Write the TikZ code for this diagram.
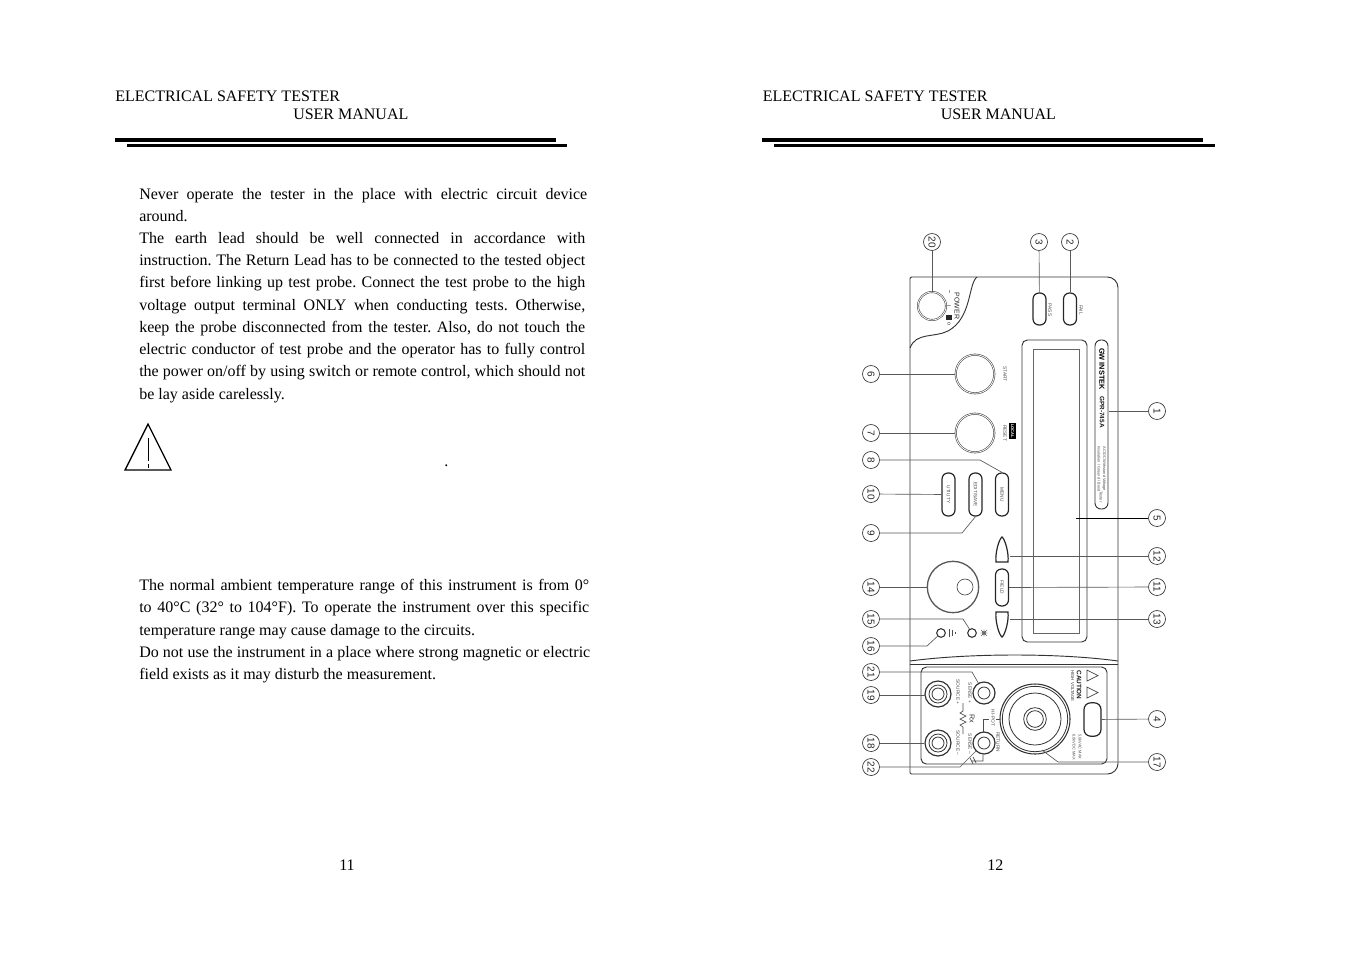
\documentclass[tikz,border=0pt]{standalone}
\usepackage{fontspec}
\setmainfont{Liberation Serif}
\setsansfont{Liberation Sans}
\frenchspacing
\usetikzlibrary{positioning}
\tikzset
{
    callout/.style = {circle, draw=black!80, line width=0.5pt, minimum size=12.75pt, inner sep=0pt, rotate=-90, font=\sffamily\fontsize{7.5}{8}\selectfont, text=black!85},
    leader/.style  = {draw=black!65, line width=0.5pt},
    outline/.style = {draw=black!80, line width=0.7pt},
    keycap/.style  = {rectangle, draw=black!85, line width=0.9pt, rounded corners=4.5pt, rotate=-90, minimum width=32.25pt, minimum height=9.75pt, inner sep=0pt, text=black!70, font=\sffamily\fontsize{3.6}{4}\selectfont},
    knob/.style    = {circle, draw=black!70, line width=0.45pt, double, double distance=0.6pt, inner sep=0pt},
    ring/.style    = {circle, draw=black!80, line width=0.6pt, inner sep=0pt},
    legend/.style  = {rotate=-90, inner sep=0pt, text=black!70, font=\sffamily\fontsize{3.6}{4}\selectfont},
    heading/.style = {anchor=base west, inner sep=0pt, font=\fontsize{12}{14}\selectfont},
    para/.style    = {anchor=north west, inner sep=0pt, align=justify, font=\fontsize{12}{16.7}\selectfont, text width=#1}
}
\begin{document}
\begin{tikzpicture}[x=0.75pt, y=-0.75pt]
	 \useasboundingbox (0, 0) rectangle (1350, 954);

	 % left page
	 \node (headla) [heading] at (115, 101) {ELECTRICAL SAFETY TESTER};
	 \node (headlb) [heading] at (293, 119) {USER MANUAL};
	 \draw[line width=3pt] (115, 140) -- (556, 140);
	 \draw[line width=2.4pt] (127, 145.5) -- (567, 145.5);

	 \node (parone) [para=336pt] at (139, 188) {Never operate the tester in the place with electric circuit device\linebreak around.};
	 \node (partwo) [para=334.5pt] at (139, 232) {The earth lead should be well connected in accordance with\linebreak instruction. The Return Lead has to be connected to the tested object\linebreak first before linking up test probe. Connect the test probe to the high\linebreak voltage output terminal ONLY when conducting tests. Otherwise,\linebreak keep the probe disconnected from the tester. Also, do not touch the\linebreak electric conductor of test probe and the operator has to fully control\linebreak the power on/off by using switch or remote control, which should not\linebreak be lay aside carelessly.};
	 \node (parthree) [para=337.5pt] at (139, 579) {The normal ambient temperature range of this instrument is from 0°\linebreak to 40°C (32° to 104°F). To operate the instrument over this specific\linebreak temperature range may cause damage to the circuits.};
	 \node (parfour) [para=338.25pt] at (139, 646) {Do not use the instrument in a place where strong magnetic or electric\linebreak field exists as it may disturb the measurement.};

	 \draw[line width=1pt, line join=miter] (148, 424) -- (171, 470) -- (125, 470) -- cycle;
	 \draw[line width=0.6pt] (148, 438) -- (148, 461) (148, 464) -- (148, 468);
	 \node (stop) [heading] at (444, 466) {.};
	 \node (pagel) [heading] at (339, 870) {11};

	 % right page
	 \node (headra) [heading] at (762.5, 101) {ELECTRICAL SAFETY TESTER};
	 \node (headrb) [heading] at (940.5, 119) {USER MANUAL};
	 \draw[line width=3pt] (762, 140) -- (1203, 140);
	 \draw[line width=2.4pt] (774, 145.5) -- (1215, 145.5);
	 \node (pager) [heading] at (987, 870) {12};

	 % panel outline
	 \draw[outline, rounded corners=1pt] (910, 774) -- (910, 277) [rounded corners=8pt] -- (1118, 277) -- (1118, 774) [rounded corners=1pt] -- cycle;
	 \draw[outline] (977, 277) .. controls (968, 284) and (972, 318) .. (948, 331) .. controls (934, 338) and (916, 332) .. (910, 348);
	 \draw[outline] (910, 661) .. controls (970, 653) and (1060, 653) .. (1118, 661);
	 \draw[outline] (910, 664) -- (1118, 664);
	 \draw[outline, rounded corners=4pt] (921, 667) rectangle (1107, 764);

	 % display and logo strip
	 \draw[outline, rounded corners=4pt] (1022, 340) rectangle (1087, 642);
	 \draw[outline, draw=black!60] (1033, 349) rectangle (1079, 633);
	 \draw[outline, rounded corners=4.5pt] (1095, 340) rectangle (1108, 509);
	 \node (brand) [legend, text=black, font=\sffamily\bfseries\fontsize{5.5}{7}\selectfont] at (1102, 369) {GW INSTEK};
	 \node (model) [legend, text=black!90, font=\sffamily\bfseries\fontsize{4.8}{6}\selectfont] at (1102, 412) {GPR-745A};
	 \node (typea) [legend, font=\sffamily\fontsize{2.9}{3}\selectfont] at (1104, 469) {AC/DC Withstand Voltage};
	 \node (typeb) [legend, font=\sffamily\fontsize{2.9}{3}\selectfont] at (1099, 469) {Insulation / Ground / Bond};
	 \node (typec) [legend, font=\sffamily\fontsize{3}{3}\selectfont] at (1101, 497) {Tester};

	 % power and result lamps
	 \node (power) [knob, minimum size=21pt] at (932, 306) {};
	 \node (powername) [legend, text=black!85, font=\sffamily\fontsize{5.2}{6}\selectfont] at (957, 306) {POWER};
	 \node (powerbar) [legend, text=black!85, font=\sffamily\bfseries\fontsize{4}{5}\selectfont] at (949, 292) {--};
	 \node (poweron) [legend, text=black!85, font=\sffamily\fontsize{4}{5}\selectfont] at (949, 306) {I};
	 \fill[black!85] (946, 315) rectangle (952, 320);
	 \node (poweroff) [legend, text=black!85, font=\sffamily\fontsize{4}{5}\selectfont] at (949, 324) {o};
	 \node (pass) [keycap, minimum width=24pt] at (1039.5, 309) {};
	 \node (fail) [keycap, minimum width=24pt] at (1070, 309) {};
	 \node (passname) [legend] at (1050, 310) {PASS};
	 \node (failname) [legend] at (1081, 310) {FAIL};

	 % left hand keys
	 \node (start) [knob, minimum size=29pt] at (975, 374) {};
	 \node (reset) [knob, minimum size=29pt] at (975, 433) {};
	 \node (startname) [legend] at (1005, 374) {START};
	 \node (resetname) [legend] at (1005, 433) {RESET};
	 \node (localname) [legend, fill=black, text=white, minimum height=5pt, minimum width=12pt, font=\sffamily\bfseries\fontsize{3}{4}\selectfont] at (1012.5, 431) {LOCAL};
	 \node (menu) [keycap] at (1002, 494.5) {MENU};
	 \node (edit) [keycap] at (975.5, 494.5) {EDIT/SAVE};
	 \node (utility) [keycap] at (948.5, 494.5) {UTILITY};
	 \node (field) [keycap, minimum width=27.75pt] at (1002, 587.5) {FIELD};
	 \draw[draw=black!85, line width=0.9pt] (996, 562) .. controls (995, 553) and (999, 539) .. (1002, 537) .. controls (1005, 539) and (1009, 553) .. (1008, 562) -- cycle;
	 \draw[draw=black!85, line width=0.9pt] (996, 612) .. controls (995, 621) and (999, 635) .. (1002, 637) .. controls (1005, 635) and (1009, 621) .. (1008, 612) -- cycle;
	 \coordinate (upper) at (1010, 556);
	 \coordinate (lower) at (1010, 619);

	 % dial and lamps
	 \node (dial) [ring, draw=black!65, line width=1pt, minimum size=38.5pt] at (953, 587) {};
	 \node (dialgrip) [ring, draw=black!70, line width=0.5pt, minimum size=12pt] at (965, 587) {};
	 \node (lampa) [ring, line width=0.8pt, minimum size=6.5pt] at (972, 633) {};
	 \node (lampb) [ring, line width=0.8pt, minimum size=6.5pt] at (941, 633) {};
	 \draw[black!60, line width=0.3pt] (984, 633) circle (2) (980, 633) -- (988, 633) (984, 629) -- (984, 637) (981, 630) -- (987, 636) (981, 636) -- (987, 630);
	 \draw[black!70, line width=0.5pt] (949, 629) -- (949, 637) (952, 630) -- (952, 636) (955, 632) -- (955, 634);

	 % terminals
	 \node (srcplus) [ring, line width=0.9pt, minimum size=19.5pt] at (938, 694) {};
	 \node (srcplusa) [ring, minimum size=13.5pt] at (srcplus) {};
	 \node (srcplusb) [ring, minimum size=9pt] at (srcplus) {};
	 \node (srcminus) [ring, line width=0.9pt, minimum size=19.5pt] at (938, 743) {};
	 \node (srcminusa) [ring, minimum size=13.5pt] at (srcminus) {};
	 \node (srcminusb) [ring, minimum size=9pt] at (srcminus) {};
	 \node (senseplus) [ring, line width=0.9pt, minimum size=16.5pt] at (984, 693) {};
	 \node (senseplusa) [ring, minimum size=9pt] at (senseplus) {};
	 \node (senseminus) [ring, line width=0.9pt, minimum size=16.5pt] at (984, 743) {};
	 \node (senseminusa) [ring, minimum size=9pt] at (senseminus) {};
	 \node (output) [ring, line width=0.8pt, minimum size=52.5pt] at (1035, 719) {};
	 \node (outputa) [ring, minimum size=49pt] at (output) {};
	 \node (outputb) [ring, minimum size=39pt] at (output) {};
	 \node (outputc) [ring, minimum size=17pt] at (output) {};
	 \node (outputd) [ring, minimum size=12.5pt] at (output) {};
	 \node (window) [keycap, minimum width=25pt, minimum height=12.75pt, rounded corners=5pt] at (1092.5, 719.5) {};

	 \node (srcplusname) [legend] at (958, 692) {SOURCE +};
	 \node (srcminusname) [legend] at (958, 743) {SOURCE --};
	 \node (senseplusname) [legend] at (970, 693) {SENSE +};
	 \node (senseminusname) [legend] at (970, 744) {SENSE --};
	 \node (hipot) [legend] at (993, 718) {HI-POT};
	 \node (return) [legend] at (998, 742) {RETURN};
	 \node (rx) [legend, text=black!80, font=\sffamily\fontsize{5.4}{7}\selectfont] at (972, 719) {Rx};
	 \node (caution) [legend, text=black!90, font=\sffamily\bfseries\fontsize{4.8}{6}\selectfont] at (1079, 685) {CAUTION};
	 \node (highvolt) [legend, text=black!80, font=\sffamily\fontsize{3.2}{4}\selectfont] at (1072.5, 686) {HIGH VOLTAGE};
	 \node (maxa) [legend, font=\sffamily\fontsize{3}{3}\selectfont] at (1080, 747) {5.0kVAC MAX};
	 \node (maxb) [legend, font=\sffamily\fontsize{3}{3}\selectfont] at (1074, 747) {6.0kVDC MAX};

	 \draw[black!75, line width=0.5pt] (1098, 675.5) -- (1087, 670) -- (1087, 681) -- cycle (1098, 692.5) -- (1087, 687) -- (1087, 698) -- cycle;
	 \draw[black!70, line width=0.5pt] (963, 703) -- (963, 711) -- (960, 713) -- (966, 716) -- (960, 719) -- (966, 722) -- (960, 725) -- (963, 727) -- (963, 734);
	 \draw[black!70, line width=0.5pt] (983, 732) -- (983, 719) -- (989, 719) (996, 719) -- (1000, 719);
	 \draw[black!70, line width=0.5pt] (983, 755) -- (983, 761) -- (972, 761) (973, 757) -- (976, 763) (970, 758) -- (973, 764);

	 % numbered circles
	 \node (c1)  [callout] at (1157, 411) {1};
	 \node (c2)  [callout] at (1070, 242) {2};
	 \node (c3)  [callout] at (1039, 242) {3};
	 \node (c4)  [callout] at (1157, 719) {4};
	 \node (c5)  [callout] at (1157, 518) {5};
	 \node (c6)  [callout] at (871, 374) {6};
	 \node (c7)  [callout] at (871, 433) {7};
	 \node (c8)  [callout] at (871, 460) {8};
	 \node (c9)  [callout] at (871, 533) {9};
	 \node (c10) [callout] at (871, 494) {10};
	 \node (c11) [callout] at (1157, 587) {11};
	 \node (c12) [callout] at (1157, 556) {12};
	 \node (c13) [callout] at (1157, 619) {13};
	 \node (c14) [callout] at (871, 587) {14};
	 \node (c15) [callout] at (871, 619) {15};
	 \node (c16) [callout] at (871, 646) {16};
	 \node (c17) [callout] at (1157, 762) {17};
	 \node (c18) [callout] at (871, 743) {18};
	 \node (c19) [callout] at (871, 695) {19};
	 \node (c20) [callout] at (932, 242) {20};
	 \node (c21) [callout] at (871, 672) {21};
	 \node (c22) [callout] at (871, 767) {22};

	 \coordinate (logoedge) at (1109, 411);
	 \coordinate (screen) at (1076, 518);
	 \coordinate (bend8) at (980, 460);
	 \coordinate (bend9) at (962, 533);
	 \coordinate (bend15) at (963, 619);
	 \coordinate (bend16) at (927, 646);
	 \coordinate (bend17) at (1058, 762);
	 \coordinate (bend21) at (972, 672);
	 \coordinate (bend22) at (960, 767);
	 \coordinate (end17) at (1042, 750);
	 \coordinate (end19) at (926, 695);

	 \path[leader]
	    (c1)    edge  (logoedge)
	    (c2)    edge  (fail)
	    (c3)    edge  (pass)
	    (c4)    edge  (window)
	    (c5)    edge[line width=0.7pt, draw=black]  (screen)
	    (c6)    edge  (start)
	    (c7)    edge  (reset)
	    (c10)   edge  (utility)
	    (c11)   edge  (field)
	    (c12)   edge  (upper)
	    (c13)   edge  (lower)
	    (c14)   edge  (dial)
	    (c18)   edge  (srcminus)
	    (c19)   edge  (end19)
	    (c20)   edge  (power);
	 \draw[leader] (c8) -- (bend8) -- (menu.west);
	 \draw[leader] (c9) -- (bend9) -- (edit.east);
	 \draw[leader] (c15) -- (bend15) -- (lampa);
	 \draw[leader] (c16) -- (bend16) -- (lampb);
	 \draw[leader] (c17) -- (bend17) -- (end17);
	 \draw[leader] (c21) -- (bend21) -- (senseplus);
	 \draw[leader] (c22) -- (bend22) -- (senseminus);
\end{tikzpicture}
\end{document}
